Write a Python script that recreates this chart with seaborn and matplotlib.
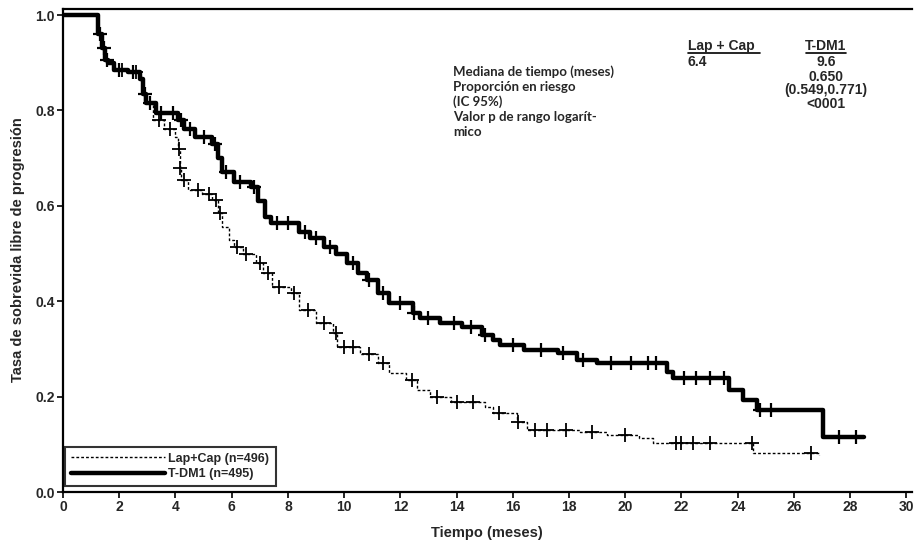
import numpy as np
import matplotlib
matplotlib.use("Agg")
import matplotlib.pyplot as plt
import seaborn as sns
from matplotlib.lines import Line2D

# ---------------- data ----------------
tdm1_t = [0, 1.25, 1.4, 1.5, 1.6, 1.8, 2.3, 2.75, 2.85, 2.95, 3.3, 4.1, 4.3, 4.7,
          5.3, 5.5, 5.65, 6.1, 6.7, 6.95, 7.2, 7.4, 8.4, 8.8, 9.3, 9.7, 10.1, 10.5,
          10.8, 11.2, 11.6, 12.45, 12.7, 13.4, 14.2, 14.9, 15.3, 15.55, 16.4, 17.6,
          18.3, 19.0, 21.5, 21.7, 23.7, 24.2, 24.7, 27.05, 28.5]
tdm1_s = [1.0, 0.96, 0.93, 0.905, 0.90, 0.885, 0.88, 0.865, 0.835, 0.815, 0.795,
          0.78, 0.76, 0.745, 0.73, 0.70, 0.67, 0.65, 0.64, 0.61, 0.577, 0.564, 0.545,
          0.532, 0.514, 0.50, 0.48, 0.46, 0.444, 0.417, 0.396, 0.375, 0.365, 0.355,
          0.345, 0.33, 0.319, 0.308, 0.298, 0.292, 0.277, 0.27, 0.252, 0.239, 0.214,
          0.193, 0.172, 0.115, 0.115]
tdm1_cens = [1.3, 1.45, 1.55, 2.0, 2.5, 2.9, 3.1, 3.5, 3.9, 4.2, 4.5, 5.0, 5.4, 5.8,
             6.3, 6.8, 7.6, 8.0, 8.6, 9.0, 9.5, 10.3, 10.9, 11.4, 12.0, 12.5, 13.0,
             13.9, 14.5, 15.0, 16.0, 17.0, 17.8, 18.5, 19.5, 20.2, 20.8, 21.1, 22.1,
             22.5, 23.0, 23.5, 24.8, 25.2, 27.6, 28.2]

lapcap_t = [0, 1.25, 1.4, 1.5, 1.6, 1.8, 2.3, 2.75, 2.85, 2.95, 3.2, 3.6, 4.0, 4.1,
            4.15, 4.2, 4.45, 4.95, 5.3, 5.5, 5.65, 5.9, 6.1, 6.4, 6.85, 7.1, 7.45,
            8.1, 8.4, 9.0, 9.6, 9.75, 10.55, 11.2, 11.6, 12.2, 12.6, 13.05, 13.8,
            15.0, 15.3, 16.15, 16.5, 18.4, 19.35, 20.5, 21.0, 24.55, 26.9]
lapcap_s = [1.0, 0.96, 0.93, 0.905, 0.90, 0.885, 0.88, 0.865, 0.835, 0.815, 0.78,
            0.76, 0.745, 0.72, 0.68, 0.655, 0.633, 0.625, 0.612, 0.585, 0.556, 0.528,
            0.514, 0.50, 0.48, 0.459, 0.43, 0.417, 0.382, 0.354, 0.333, 0.304, 0.29,
            0.27, 0.25, 0.235, 0.214, 0.20, 0.189, 0.178, 0.166, 0.147, 0.13, 0.126,
            0.12, 0.113, 0.103, 0.082, 0.078]
lapcap_cens = [1.3, 2.1, 2.6, 3.4, 3.8, 4.12, 4.17, 4.3, 4.8, 5.2, 5.45, 5.6, 6.2,
               6.5, 7.0, 7.3, 7.7, 8.2, 8.7, 9.3, 9.7, 10.0, 10.3, 10.9, 11.4, 12.4,
               13.3, 14.0, 14.6, 15.5, 16.2, 16.8, 17.2, 17.9, 18.8, 20.0, 21.8, 22.0,
               22.4, 23.0, 24.5, 26.6]

x_ticks = list(range(0, 31, 2))
y_ticks = [0.0, 0.2, 0.4, 0.6, 0.8, 1.0]
y_tick_labels = ["0.0", "0.2", "0.4", "0.6", "0.8", "1.0"]

label_lapcap = "Lap+Cap (n=496)"
label_tdm1 = "T-DM1 (n=495)"
x_label = "Tiempo (meses)"
y_label = "Tasa de sobrevida libre de progresión"

row_labels = ["Mediana de tiempo (meses)", "Proporción en riesgo", "(IC 95%)",
              "Valor p de rango logarít-", "mico"]
col_lapcap = ["Lap + Cap", "6.4"]
col_tdm1 = ["T-DM1", "9.6", "0.650", "(0.549,0.771)", "<0001"]

# ---------------- figure ----------------
sns.set_theme(style="ticks")
plt.rcParams['font.family'] = ['Liberation Sans', 'DejaVu Sans']

W, H = 914, 553
fig = plt.figure(figsize=(W / 100, H / 100), dpi=100)
def fx(px): return px / W
def fy(py): return 1 - py / H

ax_left, ax_right, ax_top, ax_bot = 63, 912, 9, 492
ax = fig.add_axes([fx(ax_left), fy(ax_bot), fx(ax_right - ax_left), (ax_bot - ax_top) / H])

def step_at(ts, ss, c):
    idx = np.searchsorted(np.asarray(ts), c, side="right") - 1
    return np.asarray(ss)[idx]

# Lap+Cap (thin dotted)
sns.lineplot(x=lapcap_t, y=lapcap_s, drawstyle="steps-post", estimator=None,
             color="black", lw=1.0, linestyle=(0, (2, 1.5)), ax=ax)
sns.scatterplot(x=lapcap_cens, y=step_at(lapcap_t, lapcap_s, lapcap_cens),
                marker="+", s=90, linewidth=1.3, color="black", ax=ax, zorder=3)
# T-DM1 (thick solid)
sns.lineplot(x=tdm1_t, y=tdm1_s, drawstyle="steps-post", estimator=None,
             color="black", lw=3.2, ax=ax)
sns.scatterplot(x=tdm1_cens, y=step_at(tdm1_t, tdm1_s, tdm1_cens),
                marker="+", s=110, linewidth=1.6, color="black", ax=ax, zorder=3)

ax.set_xlim(0, 30.2)
ax.set_ylim(0, 1.0126)
ax.set_xticks(x_ticks)
ax.set_xticklabels([str(v) for v in x_ticks], fontsize=10, fontweight="bold")
ax.set_yticks(y_ticks)
ax.set_yticklabels(y_tick_labels, fontsize=10, fontweight="bold")
ax.tick_params(axis="both", length=4, width=1.2, color="black", pad=2)
for side in ["left", "bottom", "top"]:
    ax.spines[side].set_linewidth(1.6)
    ax.spines[side].set_color("black")
ax.spines["right"].set_visible(False)
ax.set_xlabel("")
ax.set_ylabel("")

fig.text(fx(487), fy(533), x_label, ha="center", va="center", fontsize=10.5,
         fontweight="bold")
fig.text(fx(18), fy(250), y_label, ha="center", va="center", rotation=90,
         fontsize=10.5, fontweight="bold")

# legend
handles = [Line2D([], [], color="black", lw=1.0, linestyle=(0, (2, 1.5))),
           Line2D([], [], color="black", lw=3.2)]
leg = ax.legend(handles, [label_lapcap, label_tdm1], loc="lower left",
                bbox_to_anchor=(0.002, 0.012), borderaxespad=0, fancybox=False,
                handlelength=7.5, handletextpad=0.3, borderpad=0.5,
                labelspacing=0.25, prop={"size": 9, "weight": "bold"})
leg.get_frame().set_edgecolor("black")
leg.get_frame().set_linewidth(1.5)

# annotation block
rows_y = [72, 87, 102, 117, 132]
for t, yy in zip(row_labels, rows_y):
    fig.text(fx(453), fy(yy), t, ha="left", va="center", fontsize=9.5,
             family=["Lato", "DejaVu Sans"], fontweight="bold")

fig.text(fx(688), fy(46), col_lapcap[0], ha="left", va="center", fontsize=10,
         fontweight="bold")
fig.add_artist(Line2D([fx(688), fx(760)], [fy(53), fy(53)], color="black", lw=1.2))
fig.text(fx(688), fy(62), col_lapcap[1], ha="left", va="center", fontsize=10,
         fontweight="bold")

fig.text(fx(826), fy(46), col_tdm1[0], ha="center", va="center", fontsize=10,
         fontweight="bold")
fig.add_artist(Line2D([fx(806), fx(846)], [fy(53), fy(53)], color="black", lw=1.2))
for t, yy in zip(col_tdm1[1:], [62, 77, 90, 104]):
    fig.text(fx(826), fy(yy), t, ha="center", va="center", fontsize=10,
             fontweight="bold")

fig.savefig("out.png", dpi=100)
